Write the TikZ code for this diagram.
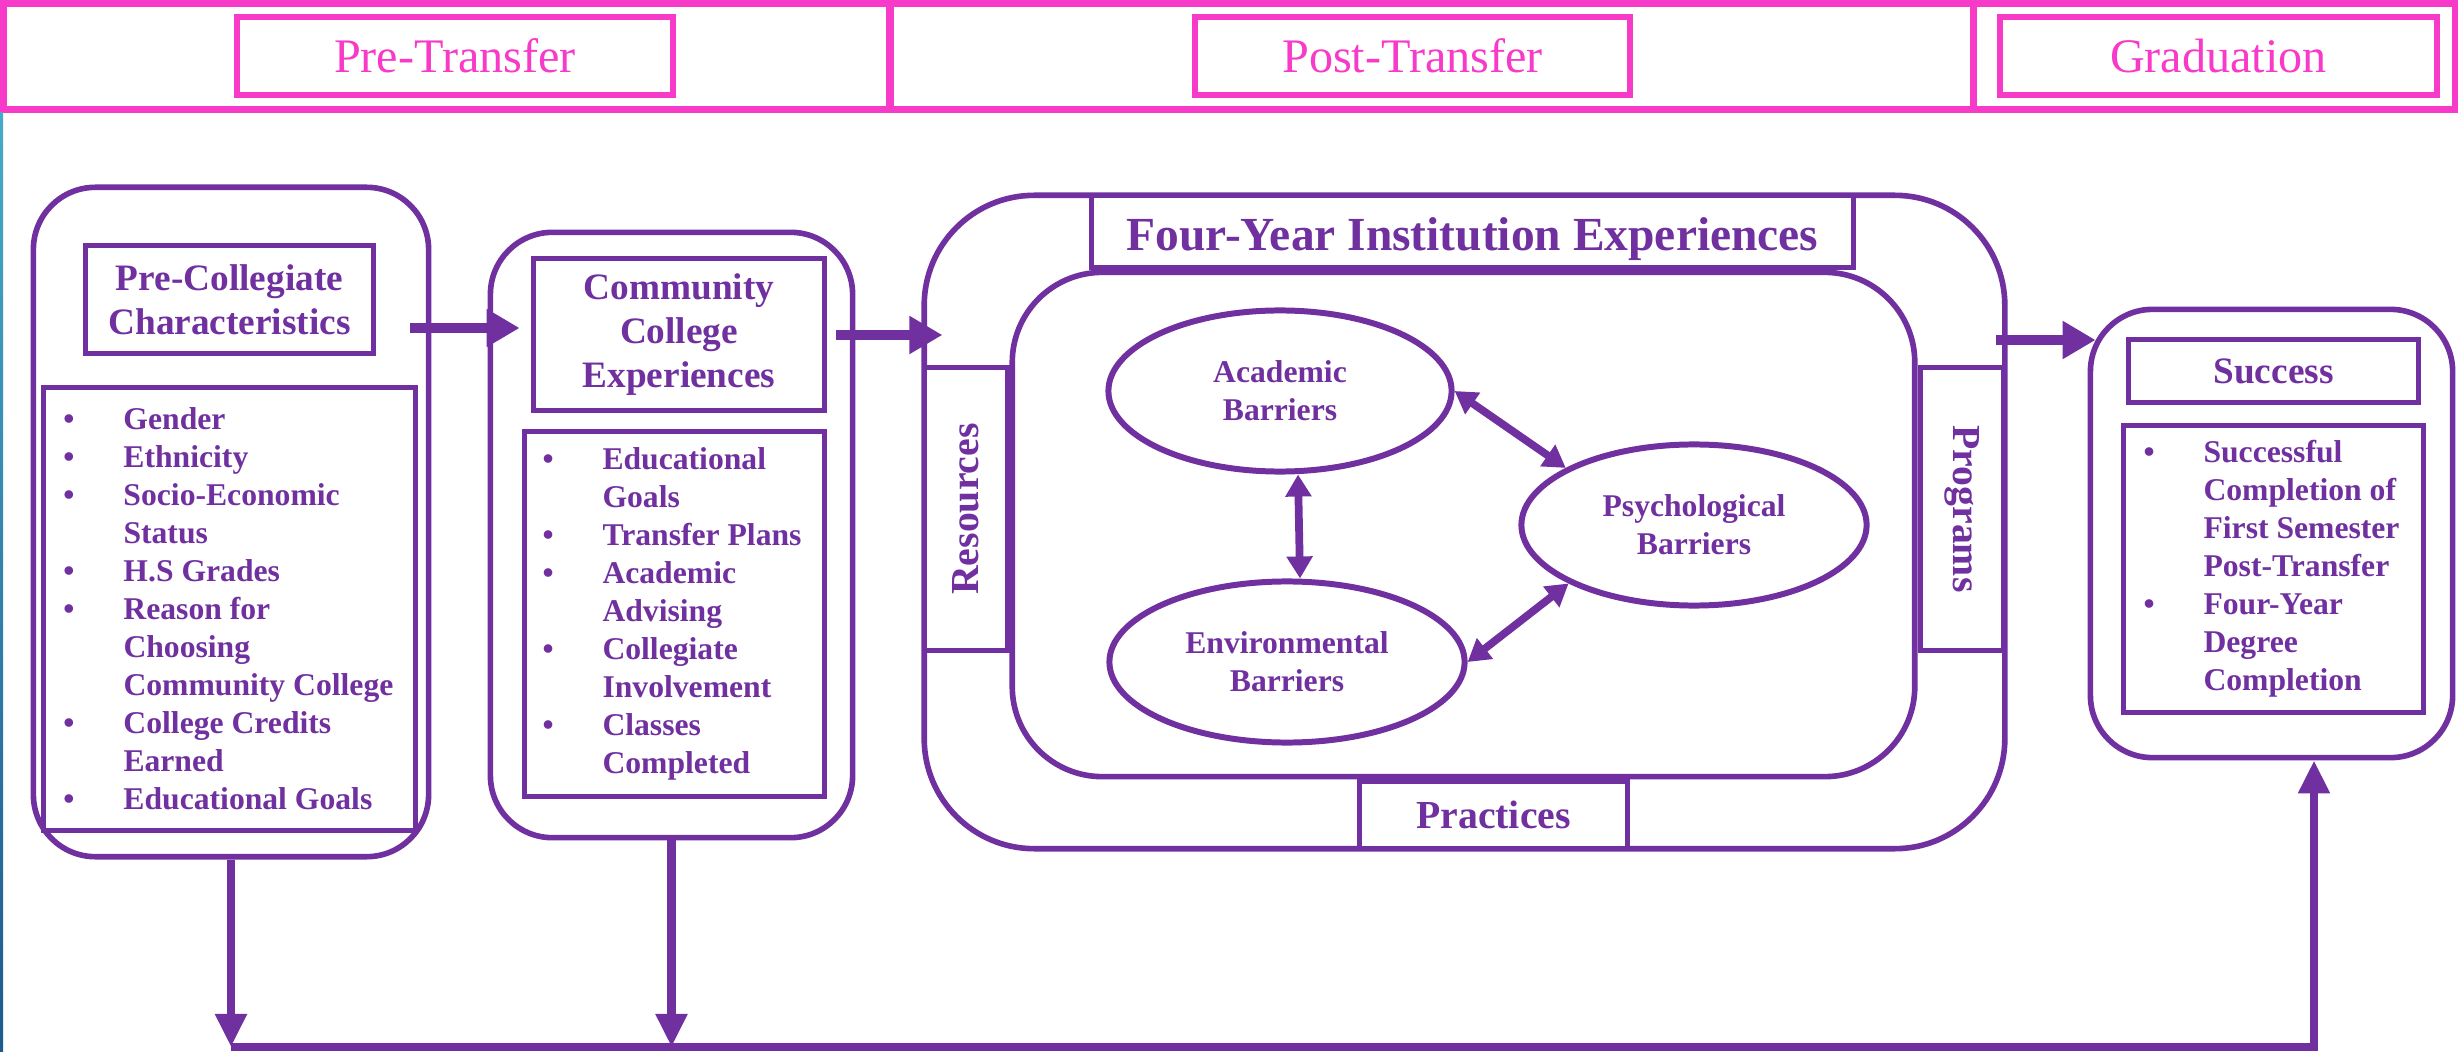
\documentclass[tikz,border=0pt]{standalone}
\usepackage{fontspec}
\setmainfont{Liberation Serif}
\usetikzlibrary{arrows.meta,shapes.geometric,positioning}

\definecolor{deeppurple}{RGB}{112,48,160}
\definecolor{hotpink}{RGB}{248,58,200}
\definecolor{edgetop}{RGB}{70,170,200}
\definecolor{edgebot}{RGB}{30,90,140}

\newcommand\itm{\makebox[0.6cm][l]{\textbullet}}
\newcommand\cnt{\hspace*{0.6cm}}

\tikzset{
  band/.style={draw=hotpink, line width=2pt},
  phase/.style={draw=hotpink, line width=1.8pt, fill=white, inner sep=0pt,
    text=hotpink, font=\fontsize{13.7}{16}\selectfont},
  stage/.style={draw=deeppurple, line width=1.6pt, fill=white, inner sep=0pt,
    rounded corners=0.62cm},
  head/.style={draw=deeppurple, line width=1.5pt, fill=white, inner sep=0pt,
    align=center, text=deeppurple, font=\bfseries\fontsize{10.6}{12.6}\selectfont},
  listbox/.style={draw=deeppurple, line width=1.5pt, fill=white, inner sep=0pt},
  items/.style={inner sep=0pt, align=left, text=deeppurple,
    font=\bfseries\fontsize{9}{10.8}\selectfont},
  barrier/.style={ellipse, draw=deeppurple, line width=1.7pt, fill=white,
    inner sep=0pt, align=center, text=deeppurple,
    font=\bfseries\fontsize{9}{10.8}\selectfont},
  side/.style={draw=deeppurple, line width=1.4pt, fill=white, inner sep=0pt,
    text=deeppurple, font=\bfseries\fontsize{11.3}{13}\selectfont},
  bigarrow/.style={draw=deeppurple, line width=3.1pt,
    -{Triangle[length=0.33cm,width=0.36cm]}},
  link/.style={draw=deeppurple, line width=2.2pt,
    {Triangle[length=0.22cm,width=0.25cm]}-{Triangle[length=0.22cm,width=0.25cm]}},
  feed/.style={draw=deeppurple, line width=2.3pt},
  feedarrow/.style={feed, -{Triangle[length=0.33cm,width=0.3cm]}},
}

\begin{document}
\begin{tikzpicture}[x=0.01cm,y=-0.01cm]
  \useasboundingbox (0,0) rectangle (2458,1052);

  % banner
  \draw[band] (3,3.5) rectangle (890,109.5);
  \draw[band] (890,3.5) rectangle (1973,109.5);
  \draw[band] (1973,3.5) rectangle (2455,109.5);
  \node[phase, minimum width=4.36cm, minimum height=0.78cm] (pre) at (455,56) {Pre-Transfer};
  \node[phase, minimum width=4.35cm, minimum height=0.78cm] (post) at (1412.5,56) {Post-Transfer};
  \node[phase, minimum width=4.37cm, minimum height=0.78cm] (grad) at (2218.5,56) {Graduation};
  \shade[top color=edgetop, bottom color=edgebot] (0,113) rectangle (3,1052);

  % pre-collegiate
  \node[stage, minimum width=3.95cm, minimum height=6.69cm] (pcbox) at (231,522) {};
  \node[head, minimum width=2.88cm, minimum height=1.08cm] (pctitle) at (229.5,299.5)
    {Pre-Collegiate\\Characteristics};
  \node[listbox, minimum width=3.72cm, minimum height=4.43cm] (pclist) at (229.5,609) {};
  \node[items, anchor=west] (pcitems) at ([xshift=0.22cm]pclist.west)
    {\itm Gender\\
     \itm Ethnicity\\
     \itm Socio-Economic\\
     \cnt Status\\
     \itm H.S Grades\\
     \itm Reason for\\
     \cnt Choosing\\
     \cnt Community College\\
     \itm College Credits\\
     \cnt Earned\\
     \itm Educational Goals};

  % community college
  \node[stage, minimum width=3.62cm, minimum height=6.05cm] (ccbox) at (671.5,535) {};
  \node[head, minimum width=2.91cm, minimum height=1.52cm] (cctitle) at (679,334.5)
    {Community\\College\\Experiences};
  \node[listbox, minimum width=3.0cm, minimum height=3.65cm] (cclist) at (674.5,614) {};
  \node[items, anchor=west] (ccitems) at ([xshift=0.2cm]cclist.west)
    {\itm Educational\\
     \cnt Goals\\
     \itm Transfer Plans\\
     \itm Academic\\
     \cnt Advising\\
     \itm Collegiate\\
     \cnt Involvement\\
     \itm Classes\\
     \cnt Completed};

  % four-year institution
  \node[stage, rounded corners=1.1cm, minimum width=10.8cm, minimum height=6.53cm] (fybox) at (1464.5,522) {};
  \node[stage, rounded corners=0.9cm, minimum width=9.02cm, minimum height=5.04cm] (fyinner) at (1463.5,524.5) {};
  \node[head, font=\bfseries\fontsize{13.5}{16}\selectfont, text height=0.37cm, text depth=0cm,
    minimum width=7.62cm, minimum height=0.72cm]
    (fytitle) at (1472.5,231.5) {Four-Year Institution Experiences};
  \node[side, rotate=90, minimum width=2.83cm, minimum height=0.83cm] (resbox) at (966,509) {Resources};
  \node[side, rotate=-90, minimum width=2.83cm, minimum height=0.83cm] (progbox) at (1962,509) {Programs};
  \node[side, minimum width=2.68cm, minimum height=0.67cm] (pracbox) at (1493.5,815) {Practices};
  \node[barrier, minimum width=3.43cm, minimum height=1.61cm] (acad) at (1280,391) {Academic\\Barriers};
  \node[barrier, minimum width=3.45cm, minimum height=1.61cm] (psych) at (1694,525) {Psychological\\Barriers};
  \node[barrier, minimum width=3.55cm, minimum height=1.61cm] (env) at (1287,662) {Environmental\\Barriers};
  \draw[link] (acad.east) -- (psych.156);
  \draw[link] ([xshift=0.18cm]acad.south) -- ([xshift=0.13cm]env.north);
  \draw[link] (env.east) -- (psych.205);

  % success
  \node[stage, minimum width=3.62cm, minimum height=4.48cm] (succbox) at (2271.5,533.5) {};
  \node[head, minimum width=2.9cm, minimum height=0.63cm] (succtitle) at (2273.5,371) {Success};
  \node[listbox, minimum width=3.0cm, minimum height=2.87cm] (succlist) at (2273.5,569) {};
  \node[items, anchor=west] (succitems) at ([xshift=0.22cm]succlist.west)
    {\itm Successful\\
     \cnt Completion of\\
     \cnt First Semester\\
     \cnt Post-Transfer\\
     \itm Four-Year\\
     \cnt Degree\\
     \cnt Completion};

  % flow arrows
  \coordinate (lvl1) at (0,328);
  \coordinate (lvl2) at (0,335);
  \coordinate (lvl3) at (0,340);
  \draw[bigarrow, shorten <=-0.21cm, shorten >=-0.32cm] (pcbox.east |- lvl1) -- (ccbox.west |- lvl1);
  \draw[bigarrow, shorten <=-0.19cm, shorten >=-0.21cm] (ccbox.east |- lvl2) -- (fybox.west |- lvl2);
  \draw[bigarrow, shorten <=-0.12cm, shorten >=-0.08cm] (fybox.east |- lvl3) -- (succbox.west |- lvl3);

  % feedback lines
  \coordinate (bl) at (231,1047);
  \coordinate (br) at (2314,1047);
  \draw[feedarrow] (pcbox.south) -- (pcbox.south |- bl);
  \draw[feedarrow] (ccbox.south) -- (ccbox.south |- bl);
  \draw[feedarrow] (bl) -- (br) -- (succbox.south -| br);
\end{tikzpicture}
\end{document}
